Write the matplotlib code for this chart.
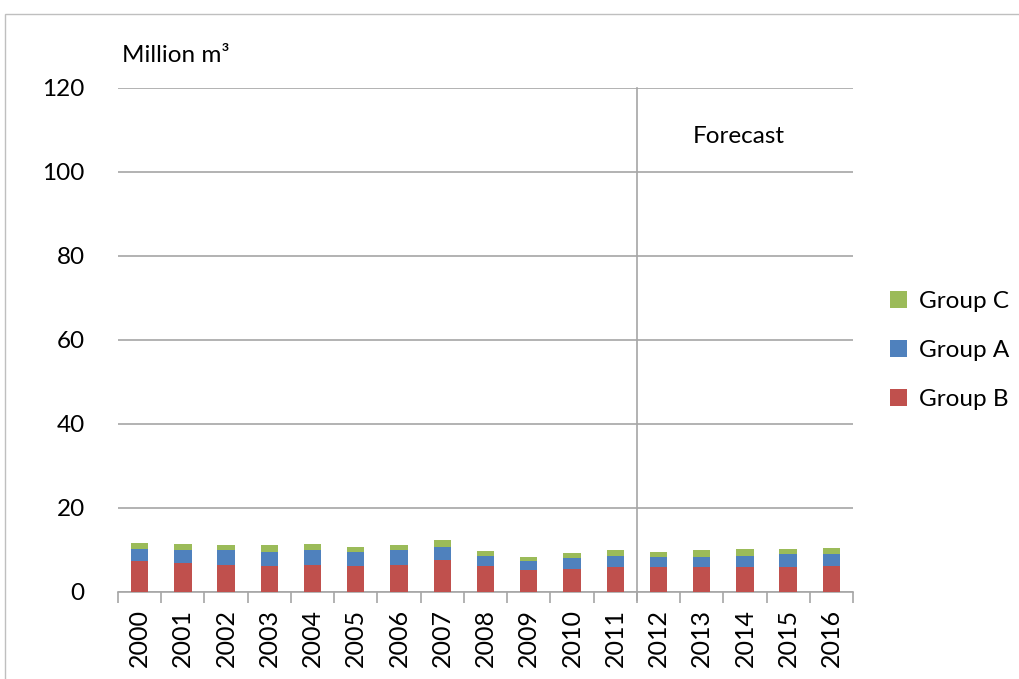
import numpy as np
import matplotlib
matplotlib.use("Agg")
import matplotlib.pyplot as plt
from matplotlib.patches import Rectangle

years = [str(y) for y in range(2000, 2017)]
# cumulative tops turned into segment heights
group_b = [7.5, 6.8, 6.5, 6.1, 6.5, 6.1, 6.5, 7.7, 6.1, 5.2, 5.5, 5.9, 5.9, 5.9, 5.9, 5.9, 6.2]
group_a = [2.8, 3.1, 3.4, 3.5, 3.4, 3.5, 3.4, 3.1, 2.5, 2.2, 2.5, 2.7, 2.4, 2.5, 2.7, 3.1, 2.8]
group_c = [1.4, 1.6, 1.2, 1.5, 1.6, 1.2, 1.2, 1.6, 1.2, 1.0, 1.3, 1.3, 1.3, 1.5, 1.6, 1.2, 1.5]
forecast_from = "2012"

plt.rcParams['font.family'] = ['Lato', 'DejaVu Sans']

fig = plt.figure(figsize=(10.2, 6.79), dpi=100)
# outer frame of the original chart object
fig.patches.append(Rectangle((5 / 1020, -0.1), 1.2, 1.1 - 14 / 679, transform=fig.transFigure,
                             fill=False, edgecolor='#bfbfbf', lw=1.0))

ax = fig.add_axes([118 / 1020, 1 - 592 / 679, (853 - 118) / 1020, (592 - 88) / 679])

x = np.arange(len(years))
b = np.array(group_b)
a = np.array(group_a)
c = np.array(group_c)
w = 0.4
ax.bar(x, b, w, color='#C0504D', label='Group B', zorder=3)
ax.bar(x, a, w, bottom=b, color='#4F81BD', label='Group A', zorder=3)
ax.bar(x, c, w, bottom=b + a, color='#9BBB59', label='Group C', zorder=3)

ax.set_xlim(-0.5, len(years) - 0.5)
ax.set_ylim(0, 120)
ax.set_yticks(range(0, 121, 20))
ax.yaxis.grid(True, color='#a6a6a6', lw=1.2, zorder=0)
ax.tick_params(axis='y', length=0, labelsize=17.5, pad=24)

ax.set_xticks(x)
ax.set_xticklabels(years, rotation=90, fontsize=18)
ax.tick_params(axis='x', length=0, pad=12)
# category separators below the axis
ax.set_xticks(np.arange(-0.5, len(years), 1.0), minor=True)
ax.tick_params(axis='x', which='minor', length=8, color='#a6a6a6', width=1.2)

for s in ['top', 'right', 'left']:
    ax.spines[s].set_visible(False)
ax.spines['bottom'].set_color('#a6a6a6')
ax.spines['bottom'].set_linewidth(1.2)

fx = years.index(forecast_from) - 0.5
ax.axvline(fx, ymin=-0.016, ymax=1, color='#a6a6a6', lw=1.2, clip_on=False, zorder=2)
ax.text(fx + 1.3, 108.5, 'Forecast', fontsize=17.5, va='center', ha='left')

fig.text(122 / 1020, 1 - 56 / 679, 'Million m\u00b3', fontsize=17.5, va='center', ha='left')

h, l = ax.get_legend_handles_labels()
ax.legend(h[::-1], l[::-1], loc='center left', bbox_to_anchor=(1.02, 0.48), frameon=False,
          fontsize=17.5, handlelength=0.7, handleheight=0.7, labelspacing=1.15, handletextpad=0.5)

fig.savefig('out.png', dpi=100)
